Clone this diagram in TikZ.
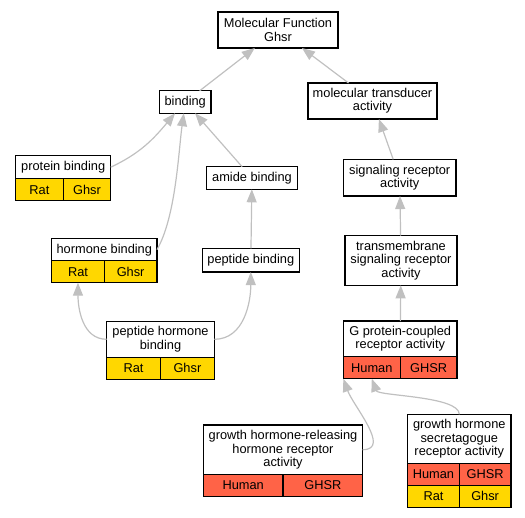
\documentclass[tikz,border=0pt]{standalone}
\usepackage{fontspec}
\setmainfont{Liberation Sans}
\usetikzlibrary{arrows.meta}
\definecolor{gold}{RGB}{255,215,0}
\definecolor{tomato}{RGB}{255,99,71}
\definecolor{linkgray}{RGB}{192,192,192}

\begin{document}
\begin{tikzpicture}[x=1pt, y=-1pt,
	every node/.style={font=\fontsize{12.8}{13.3}\selectfont},
	term/.style={draw, line width=1.2pt, fill=white, align=center, inner sep=0pt, outer sep=0pt},
	cell/.style={draw, line width=1.2pt, inner sep=0pt, outer sep=0pt, anchor=north west, minimum height=22pt},
	rat/.style={cell, fill=gold},
	human/.style={cell, fill=tomato},
	link/.style={draw=linkgray, line width=1.2pt, -{Triangle[length=13pt, width=10pt]}}]
	\useasboundingbox (0,0) rectangle (525,517);

	% plain terms
	\node[term, minimum width=120pt, minimum height=36pt] (mf) at (278,30) {Molecular Function\\Ghsr};
	\node[term, minimum width=51.7pt, minimum height=22.5pt] (binding) at (185.2,102) {binding};
	\node[term, minimum width=129pt, minimum height=36pt] (mt) at (372.5,101) {molecular transducer\\activity};
	\node[term, minimum width=90.6pt, minimum height=22.6pt] (amide) at (252,178) {amide binding};
	\node[term, minimum width=97pt, minimum height=23.7pt] (pepb) at (250.8,260.2) {peptide binding};
	\node[term, minimum width=112.7pt, minimum height=36.7pt] (sig) at (399.7,177.7) {signaling receptor\\activity};
	\node[term, minimum width=112pt, minimum height=49.6pt] (tm) at (401,260.5) {transmembrane\\signaling receptor\\activity};

	% terms with species rows
	\node[term, minimum width=95pt, minimum height=23pt] (pb) at (63.2,167.2) {protein binding};
	\node[rat, minimum width=47.5pt] (pb-rat) at (pb.south west) {Rat};
	\node[rat, minimum width=47.5pt] (pb-gene) at (pb-rat.north east) {Ghsr};

	\node[term, minimum width=105.3pt, minimum height=22pt] (hb) at (104.3,249.7) {hormone binding};
	\node[rat, minimum width=52.65pt] (hb-rat) at (hb.south west) {Rat};
	\node[rat, minimum width=52.65pt] (hb-gene) at (hb-rat.north east) {Ghsr};

	\node[term, minimum width=107.6pt, minimum height=36pt] (phb) at (160.5,339.3) {peptide hormone\\binding};
	\node[rat, minimum width=53.8pt] (phb-rat) at (phb.south west) {Rat};
	\node[rat, minimum width=53.8pt] (phb-gene) at (phb-rat.north east) {Ghsr};

	\node[term, minimum width=113.7pt, minimum height=35.7pt] (gpcr) at (400.2,338.9) {G protein-coupled\\receptor activity};
	\node[human, minimum width=56.85pt] (gpcr-human) at (gpcr.south west) {Human};
	\node[human, minimum width=56.85pt] (gpcr-gene) at (gpcr-human.north east) {GHSR};

	\node[term, minimum width=159.4pt, minimum height=49.3pt] (ghrh) at (283,449.7) {growth hormone-releasing\\hormone receptor\\activity};
	\node[human, minimum width=79.7pt] (ghrh-human) at (ghrh.south west) {Human};
	\node[human, minimum width=79.7pt] (ghrh-gene) at (ghrh-human.north east) {GHSR};

	\node[term, minimum width=103.3pt, minimum height=49pt] (ghs) at (459.3,438.8) {growth hormone\\secretagogue\\receptor activity};
	\node[human, minimum width=51.65pt] (ghs-human) at (ghs.south west) {Human};
	\node[human, minimum width=51.65pt] (ghs-gene) at (ghs-human.north east) {GHSR};
	\node[rat, minimum width=51.65pt] (ghs-rat) at (ghs-human.south west) {Rat};
	\node[rat, minimum width=51.65pt] (ghs-gene2) at (ghs-rat.north east) {Ghsr};

	% is_a links
	\draw[link] (binding) -- (mf);
	\draw[link] (mt) -- (mf);
	\draw[link] (pb.east) to[out=25, in=-130] (binding.-132);
	\draw[link] (hb.east) to[out=60, in=-98, looseness=0.7] (binding.-97);
	\draw[link] (amide) -- (binding);
	\draw[link] (pepb) -- (amide);
	\draw[link] (phb.west) to[out=180, in=-90] (hb-rat.south);
	\draw[link] (phb.east) to[out=0, in=-90] (pepb.south);
	\draw[link] (sig) -- (mt);
	\draw[link] (tm) -- (sig);
	\draw[link] (gpcr) -- (tm);
	\draw[link] (ghrh.east) to[out=0, in=-70] (gpcr-human.south west);
	\draw[link] (ghs.north) to[out=90, in=-70, looseness=0.5] (gpcr-human.south);
\end{tikzpicture}
\end{document}
